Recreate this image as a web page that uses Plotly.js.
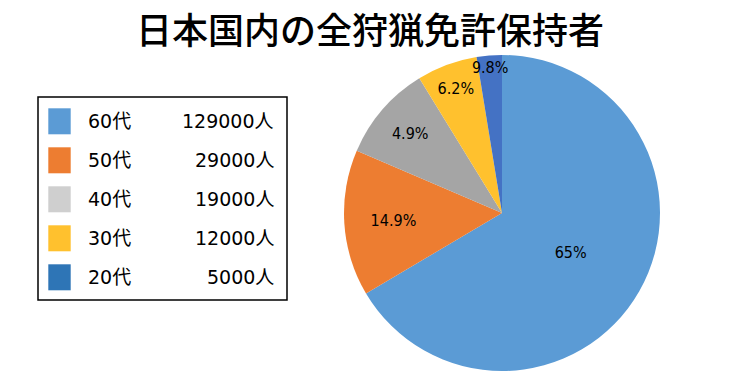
<!DOCTYPE html>
<html>
<head>
<meta charset="utf-8">
<script src="https://cdn.plot.ly/plotly-3.0.1.min.js"></script>
<style>html,body{margin:0;padding:0;background:#fff;}#chart{width:750px;height:387px;}</style>
</head>
<body>
<div id="chart"></div>
<script>
// Data
const categories = ['60代', '50代', '40代', '30代', '20代'];
const counts = [129000, 29000, 19000, 12000, 5000];
const sliceLabels = ['65%', '14.9%', '4.9%', '6.2%', '9.8%'];
const countLabels = ['129000人', '29000人', '19000人', '12000人', '5000人'];
const sliceColors = ['#5B9BD5', '#ED7D31', '#A5A5A5', '#FFC12E', '#4472C4'];
const legendColors = ['#5B9BD5', '#ED7D31', '#CFCFCF', '#FFC12E', '#2E75B6'];

const W = 750, H = 387, TOP = 54;
const px = x => x / W;
const py = y => 1 - (y - TOP) / (H - TOP);

const LEGEND_FONT = 'DejaVu Sans, Noto Sans CJK JP, sans-serif';
const LABEL_FONT = 'DejaVu Sans Condensed, DejaVu Sans, sans-serif';

const trace = {
  type: 'pie',
  labels: categories,
  values: counts,
  text: sliceLabels,
  texttemplate: '%{text}',
  textinfo: 'text',
  textposition: 'inside',
  insidetextorientation: 'horizontal',
  sort: false,
  direction: 'clockwise',
  rotation: 0,
  marker: { colors: sliceColors, line: { width: 0 } },
  textfont: { family: LABEL_FONT, size: 16, color: '#000' },
  showlegend: false,
  hoverinfo: 'label+value',
  domain: { x: [px(502 - 158), px(502 + 158)], y: [py(213 + 158), py(213 - 158)] }
};

// Custom legend built from the arrays
const shapes = [{
  type: 'rect', xref: 'paper', yref: 'paper',
  x0: px(38), x1: px(287), y0: py(300), y1: py(97),
  line: { color: '#000', width: 1.5 }, fillcolor: '#fff'
}];
const annotations = [];
const rowTop = 121.3, rowStep = 39;
categories.forEach((c, i) => {
  const yc = rowTop + i * rowStep;
  shapes.push({
    type: 'rect', xref: 'paper', yref: 'paper',
    x0: px(48.3), x1: px(70.7), y0: py(yc + 13), y1: py(yc - 13),
    line: { width: 0 }, fillcolor: legendColors[i]
  });
  annotations.push({
    xref: 'paper', yref: 'paper', x: px(86), y: py(yc), xanchor: 'left', yanchor: 'middle',
    text: c, showarrow: false, font: { family: LEGEND_FONT, size: 19, color: '#000' }
  });
  annotations.push({
    xref: 'paper', yref: 'paper', x: px(276), y: py(yc), xanchor: 'right', yanchor: 'middle',
    text: countLabels[i], showarrow: false, font: { family: LEGEND_FONT, size: 19, color: '#000' }
  });
});

const layout = {
  width: W, height: H,
  margin: { l: 0, r: 0, t: TOP, b: 0 },
  paper_bgcolor: '#fff',
  title: {
    text: '日本国内の全狩猟免許保持者',
    x: 370 / W, xanchor: 'center', xref: 'container',
    y: 1 - 31 / H, yanchor: 'middle', yref: 'container',
    font: { family: 'Noto Sans CJK JP, sans-serif', size: 36, color: '#000', weight: 500 }
  },
  uniformtext: { minsize: 16, mode: 'show' },
  shapes: shapes,
  annotations: annotations,
  showlegend: false
};

Plotly.newPlot('chart', [trace], layout, { displayModeBar: false, staticPlot: true });
</script>
</body>
</html>
